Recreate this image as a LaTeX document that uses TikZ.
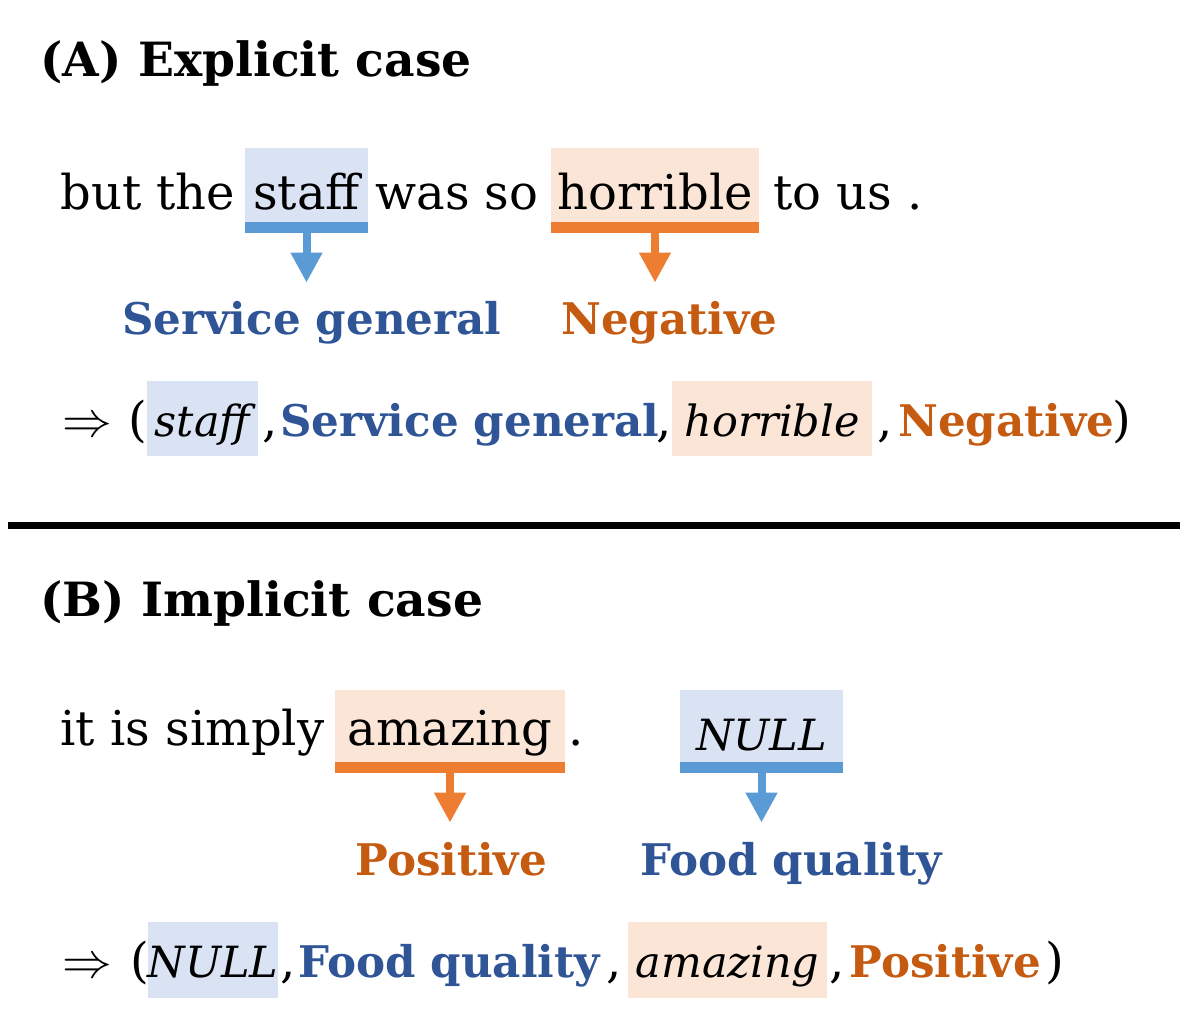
\documentclass[tikz,border=0pt]{standalone}
\usepackage{fontspec}
\setmainfont{DejaVu Serif}
\usepackage{tikz}
\usetikzlibrary{arrows.meta}

\definecolor{hlblue}{HTML}{DAE3F3}
\definecolor{hlorange}{HTML}{FBE5D6}
\definecolor{barblue}{HTML}{5B9BD5}
\definecolor{barorange}{HTML}{ED7D31}
\definecolor{lblblue}{HTML}{2F5597}
\definecolor{lblorange}{HTML}{C55A11}

\begin{document}
\begin{tikzpicture}[
            x=0.5pt, y=-0.5pt,
            wd/.style={anchor=base west, inner sep=0pt, font=\fontsize{24}{28}\selectfont},
            hl/.style={anchor=base, inner sep=0pt, font=\fontsize{24}{28}\selectfont},
            it/.style={font=\fontsize{21.5}{26}\selectfont\itshape},
            ttl/.style={anchor=base west, inner sep=0pt, font=\fontsize{23.6}{28}\selectfont\bfseries},
            lbl/.style={anchor=base west, inner sep=0pt, text height=16pt, font=\fontsize{21.8}{26}\selectfont\bfseries},
            barr/.style={-{Triangle[width=15pt,length=15pt]}, line width=4pt, shorten >=10pt}
        ]
        \useasboundingbox (0,0) rectangle (1194,1015);
        % (A) explicit
        \node[ttl] (ta) at (40,77) {(A) Explicit case};
        \node[wd] (a1) at (60,210) {but the};
        \node[hl, fill=hlblue, minimum width=61.5pt, text height=31pt, text depth=6pt] (staff) at (306.5,210) {staff};
        \node[wd] (a2) at (375,210) {was so};
        \node[hl, fill=hlorange, minimum width=104pt, text height=31pt, text depth=6pt] (horr) at (655,210) {horrible};
        \node[wd] (a3) at (773,210) {to us .};
        \fill[barblue] (staff.south west) rectangle ([yshift=-5.5pt]staff.south east);
        \fill[barorange] (horr.south west) rectangle ([yshift=-5.5pt]horr.south east);
        \node[lbl, lblblue] (svc) at (122,335) {Service general};
        \node[lbl, lblorange] (neg) at (561,335) {Negative};
        \draw[barr, barblue] ([yshift=-5.5pt]staff.south) -- (staff.south |- svc.north);
        \draw[barr, barorange] ([yshift=-5.5pt]horr.south) -- (horr.south |- neg.north);
        % tuple A
        \node[wd] (ra) at (62,437) {$\Rightarrow$};
        \node[wd] (pa1) at (128,437) {(};
        \node[hl, it, fill=hlblue, minimum width=55.5pt, text height=28pt, text depth=9.5pt] (tstaff) at (202.5,437) {staff};
        \node[wd] (ca1) at (262,437) {,};
        \node[lbl, lblblue] (tsvc) at (280,437) {Service general};
        \node[wd] (ca2) at (656,437) {,};
        \node[hl, it, fill=hlorange, minimum width=100pt, text height=28pt, text depth=9.5pt] (thorr) at (772,437) {horrible};
        \node[wd] (ca3) at (877,437) {,};
        \node[lbl, lblorange] (tneg) at (898,437) {Negative};
        \node[wd] (pa2) at (1112,437) {)};
        % separator
        \draw[line width=3.5pt] (8,526) -- (1180,526);
        % (B) implicit
        \node[ttl] (tb) at (40,617) {(B) Implicit case};
        \node[wd] (b1) at (60,745) {it is simply};
        \node[hl, fill=hlorange, minimum width=115pt, text height=27.5pt, text depth=8.5pt] (amaz) at (450,745) {amazing};
        \node[wd] (b2) at (568,745) {.};
        \node[hl, it, fill=hlblue, minimum width=81.5pt, text height=30pt, text depth=6pt] (null) at (761.5,750) {NULL};
        \fill[barorange] (amaz.south west) rectangle ([yshift=-5.5pt]amaz.south east);
        \fill[barblue] (null.south west) rectangle ([yshift=-5.5pt]null.south east);
        \node[lbl, lblorange] (pos) at (355,875) {Positive};
        \node[lbl, lblblue] (food) at (640,875) {Food quality};
        \draw[barr, barorange] ([yshift=-5.5pt]amaz.south) -- (amaz.south |- pos.north);
        \draw[barr, barblue] ([yshift=-5.5pt]null.south) -- (null.south |- food.north);
        % tuple B
        \node[wd] (rb) at (62,977) {$\Rightarrow$};
        \node[wd] (pb1) at (130,977) {(};
        \node[hl, it, fill=hlblue, minimum width=65pt, text height=27.5pt, text depth=10.5pt] (tnull) at (213,977) {NULL};
        \node[wd] (cb1) at (280,977) {,};
        \node[lbl, lblblue] (tfood) at (298,977) {Food quality};
        \node[wd] (cb2) at (606,977) {,};
        \node[hl, it, fill=hlorange, minimum width=99.5pt, text height=27.5pt, text depth=10.5pt] (tamaz) at (727.5,977) {amazing};
        \node[wd] (cb3) at (829,977) {,};
        \node[lbl, lblorange] (tpos) at (849,977) {Positive};
        \node[wd] (pb2) at (1045,977) {)};
    \end{tikzpicture}
\end{document}
